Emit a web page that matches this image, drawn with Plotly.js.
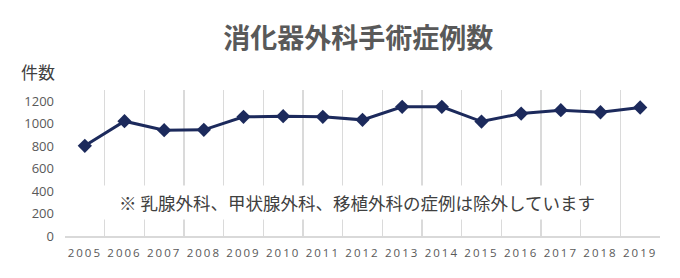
<!DOCTYPE html>
<html>
<head>
<meta charset="utf-8">
<script src="https://cdn.plot.ly/plotly-3.0.1.min.js"></script>
<style>
html,body{margin:0;padding:0;background:#fff;}
#chart{width:680px;height:278px;}
#chart .xtick text{letter-spacing:2px;}
</style>
</head>
<body>
<div id="chart"></div>
<script>
const years = ["2005","2006","2007","2008","2009","2010","2011","2012","2013","2014","2015","2016","2017","2018","2019"];
const cases = [803, 1022, 942, 945, 1061, 1067, 1061, 1034, 1150, 1150, 1019, 1090, 1120, 1102, 1144];
const yTicks = [0, 200, 400, 600, 800, 1000, 1200];
const titleText = "消化器外科手術症例数";
const yUnit = "件数";
const noteText = "※ 乳腺外科、甲状腺外科、移植外科の症例は除外しています";

const trace = {
  x: years,
  y: cases,
  type: "scatter",
  mode: "lines+markers",
  line: {color: "#1c2a5c", width: 3},
  marker: {symbol: "diamond", size: 11, color: "#1c2a5c"},
  hoverinfo: "x+y"
};

const layout = {
  width: 680,
  height: 278,
  margin: {l: 65, r: 20, t: 90, b: 42},
  paper_bgcolor: "#fff",
  plot_bgcolor: "#fff",
  showlegend: false,
  title: {
    text: "<b>" + titleText + "</b>",
    font: {family: "Noto Sans CJK JP", size: 27, color: "#595959"},
    x: 0.527, xref: "container", xanchor: "center",
    y: 1 - 38.5/278, yref: "container", yanchor: "middle"
  },
  xaxis: {
    type: "category",
    categoryorder: "array",
    categoryarray: years,
    tickson: "boundaries",
    ticks: "",
    showgrid: true,
    gridcolor: "#dadada",
    gridwidth: 1.5,
    showline: true,
    linecolor: "#d9d9d9",
    linewidth: 1.5,
    zeroline: false,
    tickfont: {family: "Open Sans", size: 11.5, color: "#595959"},
    ticklabelstandoff: 6,
    range: [-0.5, 14.5]
  },
  yaxis: {
    range: [0, 1300],
    tickvals: yTicks,
    ticktext: yTicks.map(String),
    showgrid: false,
    zeroline: false,
    showline: false,
    ticks: "",
    tickfont: {family: "Open Sans", size: 13, color: "#595959"},
    ticklabelstandoff: 10
  },
  annotations: [
    {
      text: yUnit,
      xref: "paper", yref: "paper",
      x: (38 - 65) / 595, y: (236 - 71.5) / 146.25,
      xanchor: "center", yanchor: "middle",
      showarrow: false,
      font: {family: "Noto Sans CJK JP", size: 17, color: "#404040"}
    },
    {
      text: noteText,
      xref: "paper", yref: "paper",
      x: (356.5 - 65) / 595, y: (236 - 202) / 146.25,
      xanchor: "center", yanchor: "middle",
      width: 510, height: 33,
      bgcolor: "#ffffff",
      borderpad: 0,
      showarrow: false,
      font: {family: "Noto Sans CJK JP", size: 17.5, color: "#404040"}
    }
  ]
};

Plotly.newPlot("chart", [trace], layout, {displayModeBar: false, staticPlot: true});
</script>
</body>
</html>
